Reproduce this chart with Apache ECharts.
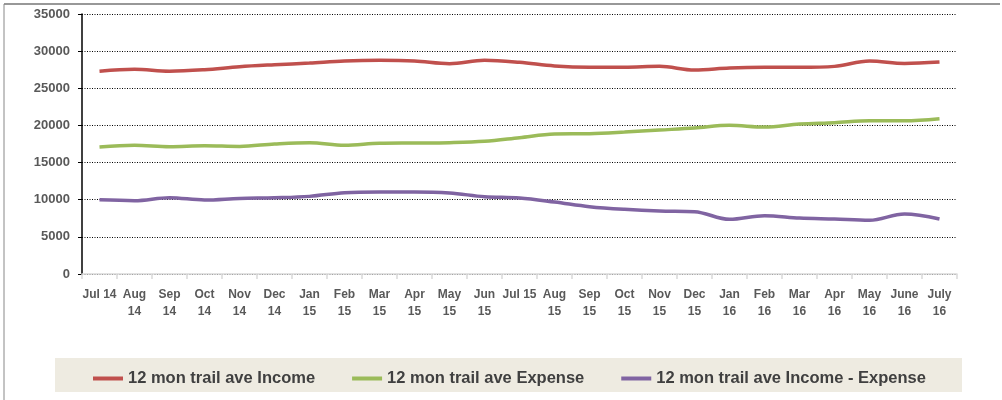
<!DOCTYPE html>
<html>
<head>
<meta charset="utf-8">
<script src="https://cdn.jsdelivr.net/npm/echarts@6/dist/echarts.min.js"></script>
<style>
html,body{margin:0;padding:0;background:#fff;}
#c{width:1002px;height:400px;}
</style>
</head>
<body>
<div id="c"></div>
<script>
const categories = ["Jul 14","Aug\n14","Sep\n14","Oct\n14","Nov\n14","Dec\n14","Jan\n15","Feb\n15","Mar\n15","Apr\n15","May\n15","Jun\n15","Jul 15","Aug\n15","Sep\n15","Oct\n15","Nov\n15","Dec\n15","Jan\n16","Feb\n16","Mar\n16","Apr\n16","May\n16","June\n16","July\n16"];
const seriesNames = ["12 mon trail ave Income","12 mon trail ave Expense","12 mon trail ave Income - Expense"];
const income = [27300,27550,27300,27500,27900,28170,28400,28670,28760,28670,28300,28760,28490,28000,27820,27820,27950,27460,27730,27820,27820,27950,28670,28350,28530];
const expense = [17090,17320,17140,17270,17180,17500,17680,17320,17590,17630,17680,17860,18350,18840,18890,19110,19380,19650,20010,19780,20190,20370,20630,20630,20900];
const net = [9980,9870,10270,9960,10180,10270,10450,10940,11040,11040,10900,10410,10230,9690,9060,8700,8480,8390,7360,7850,7540,7400,7230,8080,7400];
const yTicks = {min:0, max:35000, interval:5000};

const colors = ["#C0504D","#9BBB59","#8064A2"];
const chart = echarts.init(document.getElementById('c'), null, {renderer:'canvas'});
const mkSeries = (name, data, color) => ({
  name, type:'line', data, smooth:0.35, symbol:'none',
  lineStyle:{color, width:3.5}, itemStyle:{color},
  emphasis:{disabled:true}
});
chart.setOption({
  animation:false,
  backgroundColor:'#fff',
  textStyle:{fontFamily:'Liberation Sans'},
  grid:{left:82, right:45, top:14, bottom:126, containLabel:false},
  graphic:[
    {type:'rect', z:-1, shape:{x:55, y:358, width:907, height:34}, style:{fill:'#EEEBE1'}},
    {type:'line', shape:{x1:4, y1:4, x2:1000, y2:4}, style:{stroke:'#333', lineWidth:1.2}},
    {type:'line', shape:{x1:4, y1:4, x2:4, y2:400}, style:{stroke:'#888', lineWidth:1}}
  ],
  legend:{
    data:seriesNames, left:88, top:365, itemGap:37, itemWidth:30, itemHeight:4,
    itemTextGap:3, icon:'rect',
    textStyle:{fontFamily:'Liberation Sans', fontWeight:'bold', fontSize:16.5, color:'#404040'}
  },
  xAxis:{
    type:'category', data:categories, boundaryGap:true,
    axisLine:{lineStyle:{color:'#D9D9D9', width:1.5}},
    axisTick:{show:true, interval:0, length:5, alignWithLabel:false, lineStyle:{color:'#D9D9D9', width:1.5}},
    axisLabel:{interval:0, margin:12, fontSize:12, fontWeight:'bold', color:'#595959', lineHeight:17, fontFamily:'Liberation Sans'},
    splitLine:{show:false}
  },
  yAxis:{
    type:'value', min:yTicks.min, max:yTicks.max, interval:yTicks.interval,
    axisLine:{show:true, lineStyle:{color:'#000', width:1.5}},
    axisTick:{show:true, length:4, lineStyle:{color:'#000', width:1}},
    axisLabel:{margin:12, fontSize:13, fontWeight:'bold', color:'#595959', fontFamily:'Liberation Sans',
      formatter:v => String(v)},
    splitLine:{show:true, lineStyle:{color:'#000', type:[1,1.5], width:1}}
  },
  series:[
    mkSeries(seriesNames[0], income, colors[0]),
    mkSeries(seriesNames[1], expense, colors[1]),
    mkSeries(seriesNames[2], net, colors[2])
  ]
});
</script>
</body>
</html>
